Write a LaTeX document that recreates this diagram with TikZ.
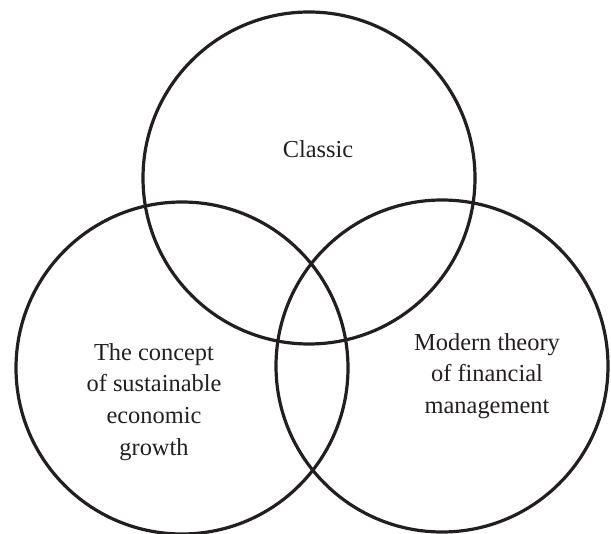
\documentclass[tikz,border=0pt]{standalone}
\usepackage{fontspec}
\setmainfont{Liberation Serif}
\newfontfamily\vennfont{Liberation Serif}
\usepackage{tikz}

\definecolor{ink}{HTML}{231F20}

\begin{document}
\begin{tikzpicture}[x=0.5pt,y=-0.5pt]
\useasboundingbox (0,0) rectangle (611,534);

\begin{scope}[every node/.style={circle,draw=ink,line width=1.6pt,minimum size=166pt,inner sep=0pt}]
	\node (Top) at (309,178) {};
	\node (Left) at (182,368) {};
	\node (Right) at (442,366) {};
\end{scope}

\begin{scope}[every node/.style={align=center,text=ink,font=\vennfont\fontsize{12.2}{15.9}\selectfont}]
	\node (TopText) at (318,149) {Classic};
	\node (LeftText) at (154,402) {The concept\\of sustainable\\economic\\growth};
	\node (RightText) at (487,376) {Modern theory\\of financial\\management};
\end{scope}

\end{tikzpicture}
\end{document}
